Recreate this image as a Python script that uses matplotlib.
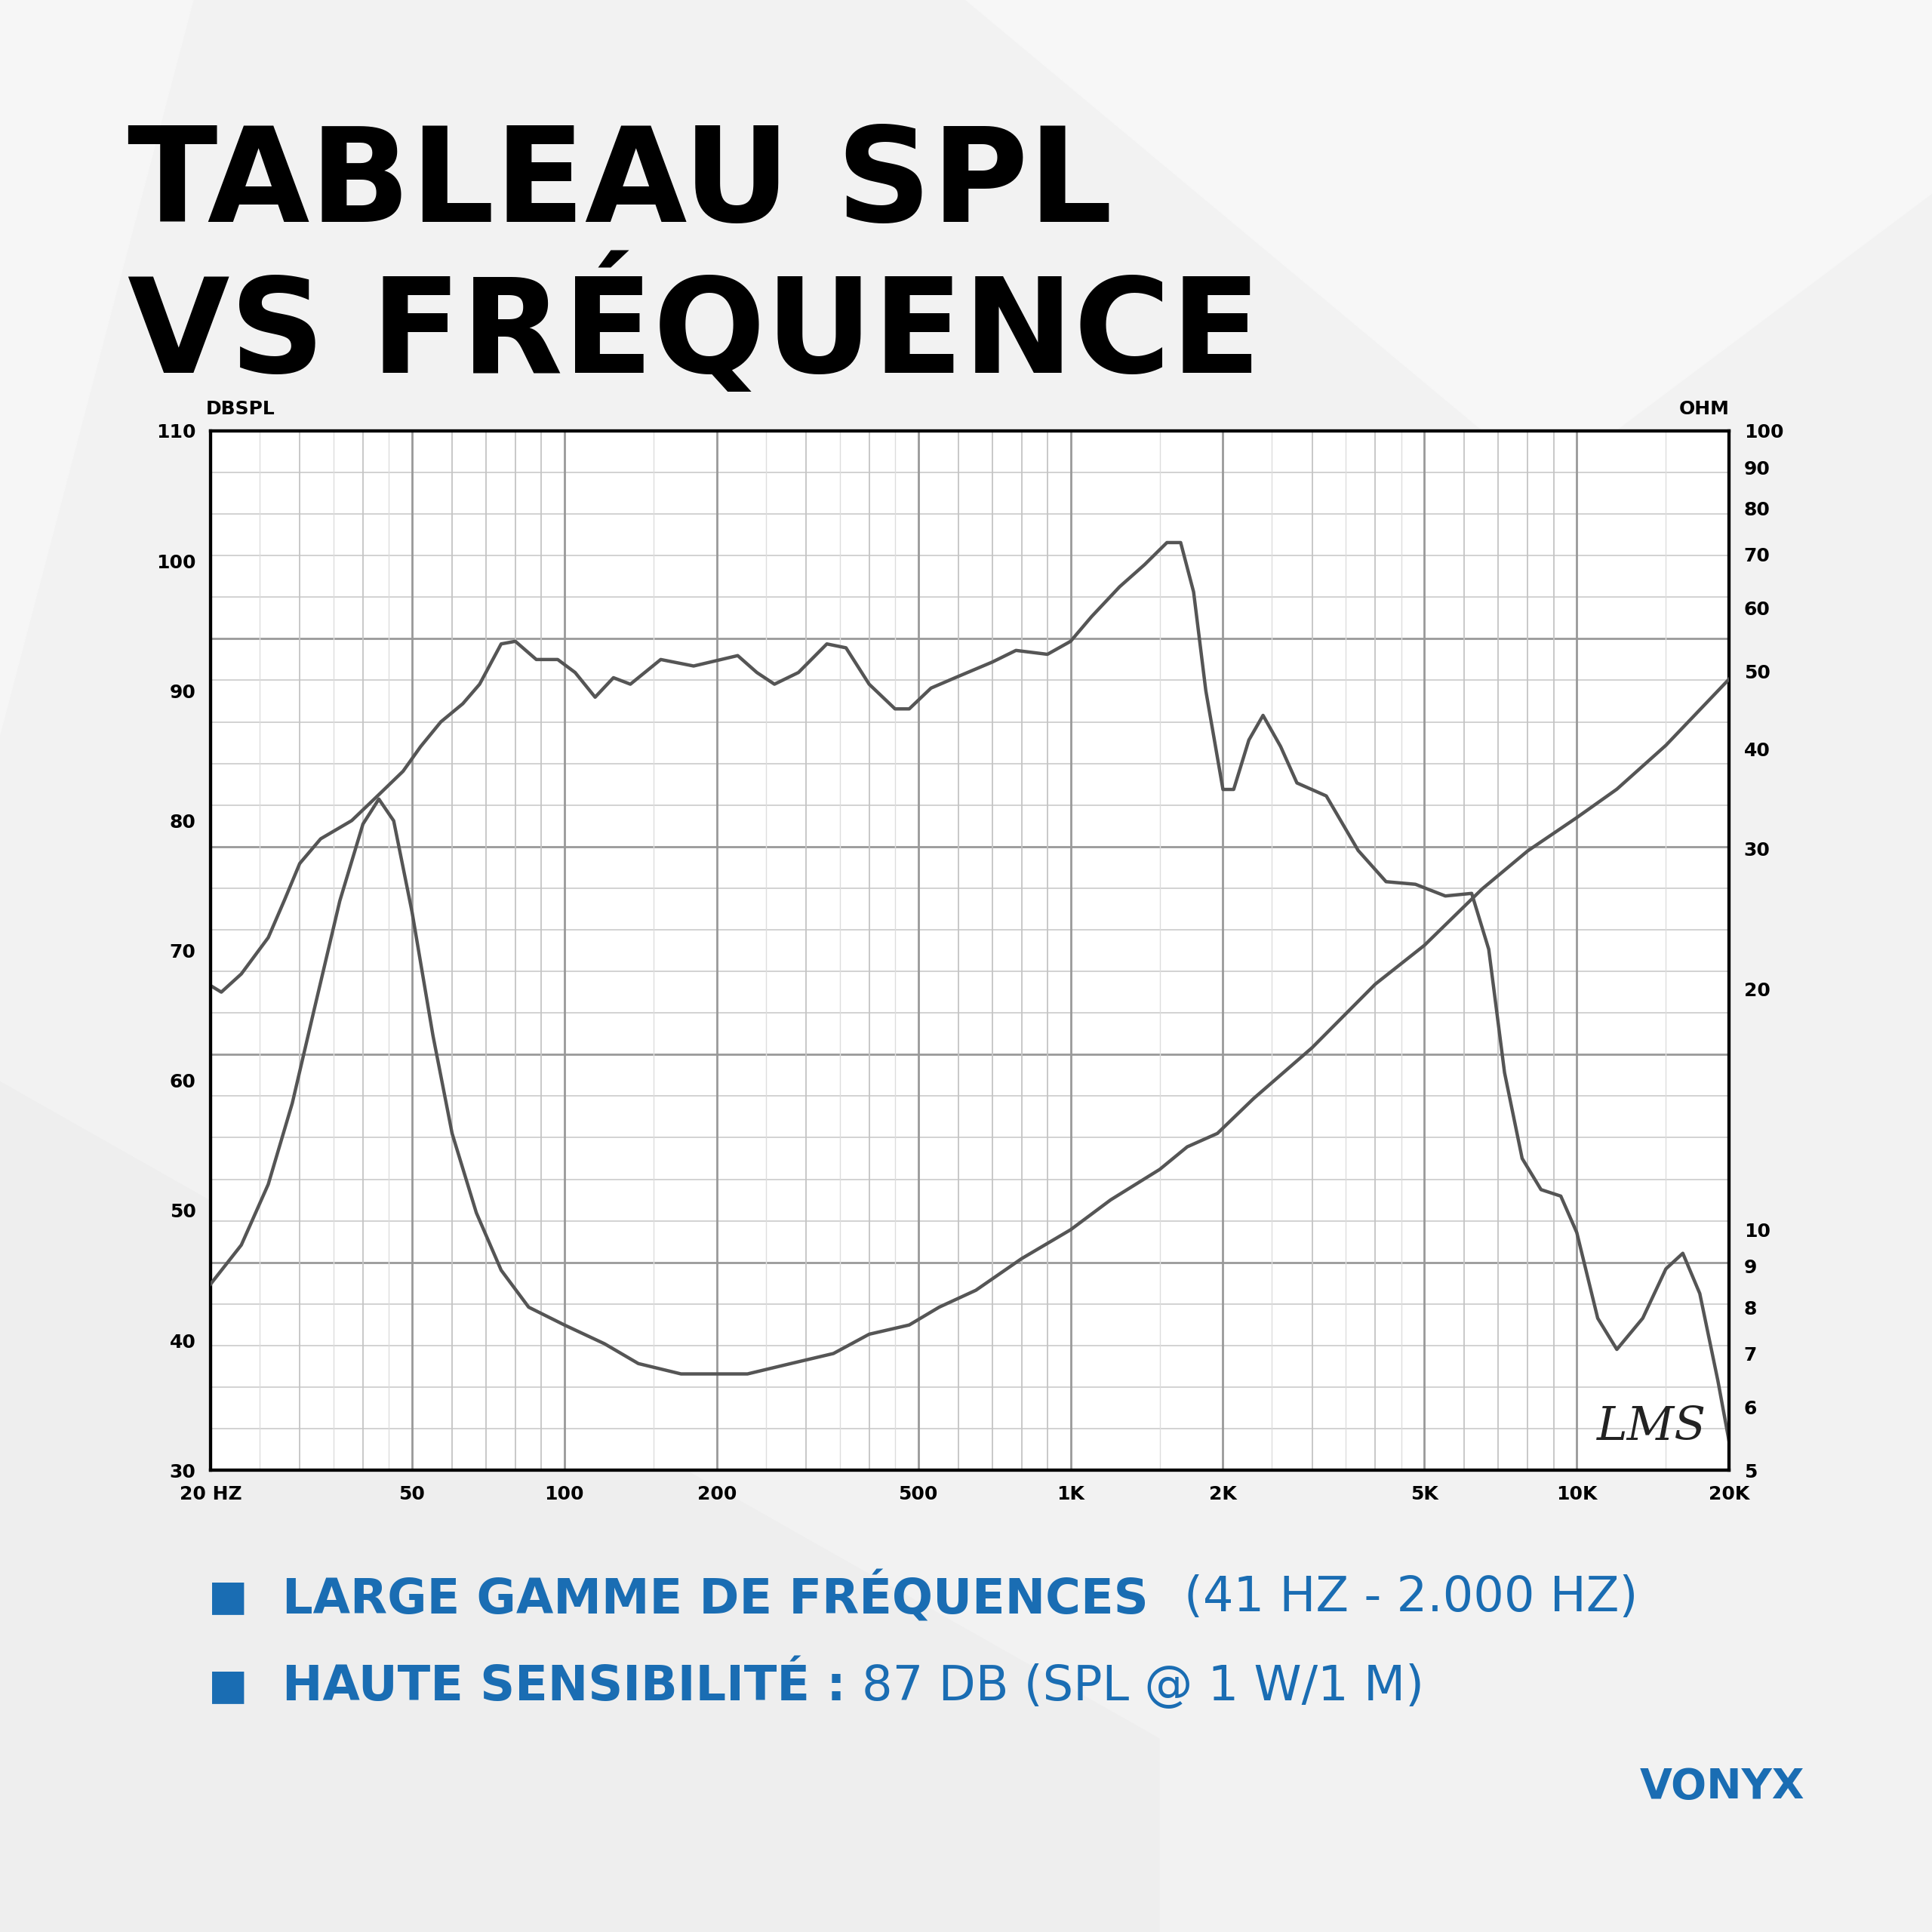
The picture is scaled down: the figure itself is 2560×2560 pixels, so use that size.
import matplotlib.pyplot as plt
import numpy as np
from matplotlib.patches import Polygon

# SPL curve (left axis, dB)
spl_freq = [20, 21, 23, 26, 28, 30, 33, 38, 43, 48, 52, 57, 63, 68, 75, 80, 88, 97, 105, 115,
            125, 135, 155, 180, 220, 240, 260, 290, 330, 360, 400, 450, 480, 530, 600, 700, 780,
            900, 1000, 1100, 1250, 1400, 1550, 1650, 1750, 1850, 2000, 2100, 2250, 2400, 2600,
            2800, 3200, 3700, 4200, 4800, 5500, 6200, 6700, 7200, 7800, 8500, 9300, 10000,
            11000, 12000, 13500, 15000, 16200, 17500, 19000, 20000]
spl_db = [67.3, 66.8, 68.2, 71.0, 73.9, 76.7, 78.6, 80.0, 82.0, 83.8, 85.7, 87.6, 89.0, 90.5,
          93.6, 93.8, 92.4, 92.4, 91.4, 89.5, 91.0, 90.5, 92.4, 91.9, 92.7, 91.4, 90.5, 91.4,
          93.6, 93.3, 90.5, 88.6, 88.6, 90.2, 91.1, 92.2, 93.1, 92.8, 93.8, 95.7, 98.0, 99.7,
          101.4, 101.4, 97.6, 90.0, 82.4, 82.4, 86.2, 88.1, 85.7, 82.9, 81.9, 77.7, 75.3, 75.1,
          74.2, 74.4, 70.1, 60.6, 54.0, 51.6, 51.1, 48.3, 41.7, 39.3, 41.7, 45.5, 46.7, 43.6,
          36.9, 32.2]

# Impedance curve (right axis, ohm)
imp_freq = [20, 23, 26, 29, 32, 36, 40, 43, 46, 50, 55, 60, 67, 75, 85, 100, 120, 140, 170,
            230, 280, 340, 400, 480, 550, 650, 800, 1000, 1200, 1500, 1700, 1950, 2300, 3000,
            4000, 5000, 6500, 8000, 10000, 12000, 15000, 20000]
imp_ohm = [8.55, 9.57, 11.4, 14.4, 18.8, 25.8, 32.2, 34.6, 32.5, 25.0, 17.5, 13.2, 10.5, 8.9,
           8.0, 7.6, 7.2, 6.8, 6.6, 6.6, 6.8, 7.0, 7.4, 7.6, 8.0, 8.4, 9.2, 10.0, 10.9, 11.9,
           12.7, 13.2, 14.6, 16.9, 20.3, 22.7, 26.7, 29.8, 32.8, 35.6, 40.4, 48.9]

x_ticks = [20, 50, 100, 200, 500, 1000, 2000, 5000, 10000, 20000]
x_labels = ["20 HZ", "50", "100", "200", "500", "1K", "2K", "5K", "10K", "20K"]
left_ticks = [30, 40, 50, 60, 70, 80, 90, 100, 110]
right_ticks = [5, 6, 7, 8, 9, 10, 20, 30, 40, 50, 60, 70, 80, 90, 100]

blue = "#1a6db3"
line_col = "#555555"

fig = plt.figure(figsize=(25.6, 25.6), dpi=100)
fig.patch.set_facecolor("#f2f2f2")
bg = fig.add_axes([0, 0, 1, 1], zorder=-10)
bg.set_xlim(0, 1); bg.set_ylim(0, 1); bg.axis("off")
bg.add_patch(Polygon([[0, 0.62], [0.1, 1], [0, 1]], color="#f6f6f6"))
bg.add_patch(Polygon([[0.5, 1], [0.8, 0.75], [1, 0.9], [1, 1]], color="#f7f7f7"))
bg.add_patch(Polygon([[0, 0], [0, 0.44], [0.6, 0.1], [0.6, 0]], color="#eeeeee"))

ax = fig.add_axes([0.109, 0.239, 0.786, 0.538])
ax.set_facecolor("white")
ax.set_xscale("log")
ax.set_xlim(20, 20000)
ax.set_ylim(30, 110)

# grid in axes fraction
for k in range(26):
    ax.axhline(30 + 80 * k / 25, color="#999999" if k % 5 == 0 else "#cfcfcf",
               lw=2.0 if k % 5 == 0 else 1.3, zorder=0)
for dec in [10, 100, 1000, 10000]:
    for m in range(1, 10):
        f = dec * m
        if 20 <= f <= 20000:
            dark = m in (1, 2, 5)
            ax.axvline(f, color="#999999" if dark else "#c4c4c4", lw=2.0 if dark else 1.3, zorder=0)
    for h in [1.5, 2.5, 3.5, 4.5]:
        f2 = dec * h
        if 20 <= f2 <= 20000:
            ax.axvline(f2, color="#dddddd", lw=1.0, zorder=0)

ax.plot(spl_freq, spl_db, color=line_col, lw=3.2, zorder=3)
ax.set_xticks(x_ticks)
ax.set_xticklabels(x_labels)
ax.minorticks_off()
ax.set_yticks(left_ticks)
ax.tick_params(length=0, labelsize=18, pad=14)
for lab in ax.get_xticklabels() + ax.get_yticklabels():
    lab.set_fontweight("bold")
for s in ax.spines.values():
    s.set_linewidth(3)

ax2 = ax.twinx()
ax2.set_yscale("log")
ax2.set_ylim(5, 100)
ax2.plot(imp_freq, imp_ohm, color=line_col, lw=3.2, zorder=3)
ax2.set_yticks(right_ticks)
ax2.set_yticklabels([str(v) for v in right_ticks])
ax2.minorticks_off()
ax2.tick_params(length=0, labelsize=18, pad=14)
for lab in ax2.get_yticklabels():
    lab.set_fontweight("bold")
for s in ax2.spines.values():
    s.set_linewidth(3)

ax.text(-0.003, 1.012, "DBSPL", transform=ax.transAxes, fontsize=18, fontweight="bold", va="bottom")
ax.text(1.0, 1.012, "OHM", transform=ax.transAxes, fontsize=18, fontweight="bold",
        va="bottom", ha="right")
ax.text(0.985, 0.02, "LMS", transform=ax.transAxes, fontsize=44, style="italic",
        ha="right", va="bottom", family="DejaVu Serif", color="#222222")

fig.text(0.066, 0.937, "TABLEAU SPL\nVS FRÉQUENCE", fontsize=126, fontweight="black",
         va="top", ha="left", linespacing=1.08)

fig.text(0.108, 0.173, "■", fontsize=40, color=blue, va="center")
fig.text(0.146, 0.173, "LARGE GAMME DE FRÉQUENCES", fontsize=46, color=blue,
         fontweight="bold", va="center")
fig.text(0.613, 0.173, "(41 HZ - 2.000 HZ)", fontsize=46, color=blue, va="center")
fig.text(0.108, 0.127, "■", fontsize=40, color=blue, va="center")
fig.text(0.146, 0.127, "HAUTE SENSIBILITÉ :", fontsize=46, color=blue,
         fontweight="bold", va="center")
fig.text(0.446, 0.127, "87 DB (SPL @ 1 W/1 M)", fontsize=46, color=blue, va="center")

fig.text(0.934, 0.075, "VONYX", fontsize=40, color=blue, fontweight="black",
         ha="right", va="center")

fig.savefig("out.png", dpi=100, facecolor=fig.get_facecolor())
